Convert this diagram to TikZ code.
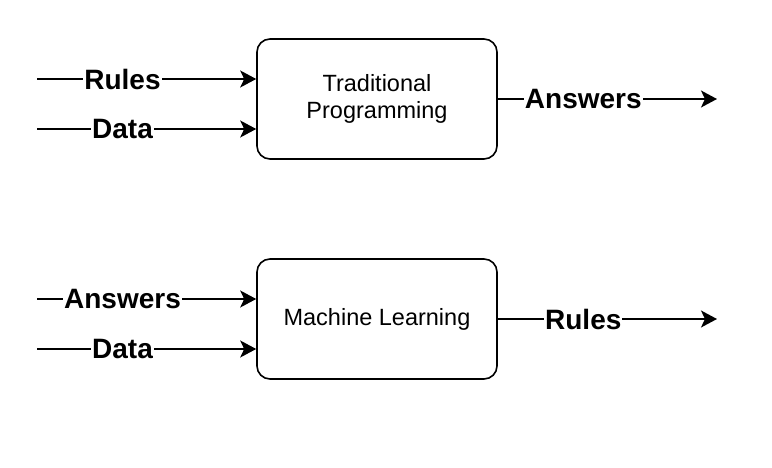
\documentclass[tikz,border=0pt]{standalone}
\usepackage{fontspec}
\setmainfont{Liberation Sans}
\usetikzlibrary{arrows.meta}

\begin{document}
\begin{tikzpicture}[x=1pt,y=-1pt,
    proc/.style={draw, line width=1.6pt, rounded corners=13pt,
        minimum width=240pt, minimum height=120pt, align=center,
        font=\fontsize{23.5}{27}\selectfont},
    flow/.style={line width=1.6pt, -{Stealth[length=16pt,width=17pt,inset=4pt]}},
    lbl/.style={fill=white, inner xsep=1pt, inner ysep=2pt,
        font=\fontsize{28}{32}\selectfont\bfseries}]
    \useasboundingbox (0,0) rectangle (772,468);

    % Define boxes
    \node[proc] (TP) at (377,99) {Traditional\\Programming};
    \node[proc] (ML) at (377,319) {Machine Learning};

    % Define input and output ends
    \foreach \i/\y in {0/79,1/129,2/299,3/349} {
        \coordinate (I\i) at (37,\y);
    }
    \coordinate (O0) at (717,99);
    \coordinate (O1) at (717,319);

    % Inputs
    \foreach \i/\blk/\txt in {0/TP/Rules,1/TP/Data,2/ML/Answers,3/ML/Data} {
        \draw[flow] (I\i) -- (I\i -| \blk.west) node[lbl, pos=0.39] {\txt};
    }

    % Outputs
    \draw[flow] (TP.east) -- (O0) node[lbl, pos=0.39] {Answers};
    \draw[flow] (ML.east) -- (O1) node[lbl, pos=0.39] {Rules};

\end{tikzpicture}
\end{document}
